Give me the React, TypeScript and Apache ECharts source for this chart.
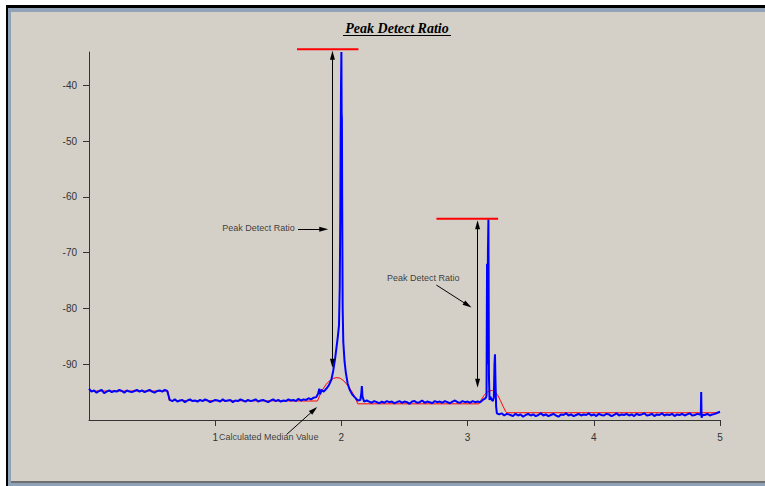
import React, { useEffect, useRef } from "react";
import * as echarts from "echarts";

// ---- axis ticks ----
const xTicks = [1, 2, 3, 4, 5];
const yTicks = [-90, -80, -70, -60, -50, -40];

// ---- blue signal (baseline segments sampled every 0.02) ----
const STEP = 0.02;
const blueSeg1Start = 0.0;
const blueSeg1 = [
  -94.4, -94.9, -94.7, -95.1, -94.8, -94.6, -95.2, -94.9, -94.7, -95.0,
  -94.8, -94.9, -94.6, -94.8, -95.1, -94.7, -94.9, -95.0, -94.8, -94.6,
  -94.9, -94.7, -95.0, -94.8, -94.6, -94.9, -95.1, -94.8, -94.7, -94.9,
  -94.6, -94.8,
];
const blueSeg2Start = 0.64;
const blueSeg2 = [
  -96.4, -96.6, -96.3, -96.7, -96.5, -96.4, -96.8, -96.5, -96.3, -96.6,
  -96.5, -96.7, -96.4, -96.6, -96.3, -96.5, -96.8, -96.6, -96.4, -96.5,
  -96.7, -96.3, -96.6, -96.5, -96.4, -96.8, -96.5, -96.6, -96.3, -96.5,
  -96.7, -96.4, -96.6, -96.5, -96.3, -96.7, -96.5, -96.4, -96.6, -96.8,
  -96.5, -96.3, -96.6, -96.4, -96.7, -96.5, -96.6, -96.3, -96.5, -96.4,
  -96.6, -96.2, -96.5, -96.3, -96.4, -96.1, -96.3, -96.0,
];
const bluePeak1: [number, number][] = [
  [1.8, -95.9], [1.815, -95.3], [1.825, -94.4], [1.832, -95.4], [1.84, -94.6],
  [1.86, -94.9], [1.88, -94.4], [1.9, -93.8], [1.92, -92.8], [1.935, -91.2],
  [1.95, -89.0], [1.96, -87.2], [1.972, -85.0], [1.981, -83.0], [1.987, -76.0],
  [1.991, -64.0], [1.994, -50.0], [1.997, -40.0], [2.0, -34.0], [2.002, -45.0],
  [2.004, -46.0], [2.006, -60.0], [2.01, -80.0], [2.015, -86.0], [2.025, -89.5],
  [2.035, -91.5], [2.05, -93.5], [2.066, -94.6], [2.085, -95.4], [2.105, -95.9],
  [2.13, -96.5], [2.15, -96.4], [2.158, -95.2], [2.162, -93.9], [2.167, -95.8],
  [2.18, -96.7], [2.2, -96.5],
];
const blueSeg3Start = 2.22;
const blueSeg3 = [
  -96.7, -96.9, -96.6, -96.8, -97.0, -96.7, -96.9, -96.6, -96.8, -96.7,
  -97.0, -96.8, -96.6, -96.9, -96.7, -96.8, -97.1, -96.7, -96.6, -96.9,
  -96.8, -96.5, -96.9, -96.7, -96.8, -97.0, -96.6, -96.8, -96.7, -96.9,
  -96.6, -96.8, -97.0, -96.7, -96.5, -96.8, -96.9, -96.6, -96.8, -96.7,
  -96.9, -96.6, -96.8, -96.7,
];
const bluePeak2: [number, number][] = [
  [3.1, -96.8], [3.12, -96.4], [3.135, -96.2], [3.145, -96.0], [3.15, -95.6],
  [3.154, -72.0], [3.157, -90.0], [3.161, -70.0], [3.165, -64.0], [3.169, -92.0],
  [3.174, -96.4], [3.18, -95.8], [3.19, -96.3], [3.2, -96.6], [3.208, -95.9],
  [3.213, -90.0], [3.217, -88.2], [3.221, -93.0], [3.226, -97.6], [3.232, -98.8],
  [3.25, -99.0], [3.27, -98.8], [3.29, -99.2], [3.31, -98.9],
];
const blueSeg4Start = 3.34;
const blueSeg4 = [
  -99.1, -99.3, -98.9, -99.2, -99.0, -99.4, -99.1, -98.9, -99.2, -99.0,
  -99.3, -99.1, -98.8, -99.2, -99.0, -99.3, -99.1, -98.9, -99.2, -99.4,
  -99.0, -99.1, -98.8, -99.2, -99.0, -99.3, -99.1, -98.9, -99.2, -99.0,
  -99.1, -98.8, -99.2, -99.0, -99.3, -98.9, -99.1, -99.2, -98.9, -99.0,
  -99.3, -99.1, -98.8, -99.2, -99.0, -99.1, -98.9, -99.2, -99.0, -99.3,
  -98.9, -99.1, -99.0, -98.8, -99.2, -99.1, -98.9, -99.3, -99.0, -99.1,
  -98.8, -99.2, -99.0, -99.1, -98.9, -99.3, -99.0, -99.1, -98.9, -99.2,
  -99.0, -98.8, -99.2, -99.1, -98.9, -99.0,
];
const blueSpike3: [number, number][] = [
  [4.848, -99.0], [4.851, -95.0], [4.854, -99.6], [4.862, -99.1],
];
const blueSeg5Start = 4.88;
const blueSeg5 = [-99.1, -98.9, -99.2, -99.0, -98.9, -98.7, -98.5];

// ---- red calculated median ----
const medianLine: [number, number][] = [
  [0.0, -94.8], [0.625, -94.8], [0.635, -96.5], [1.81, -96.6],
  [1.83, -95.5], [1.85, -94.6], [1.87, -93.9], [1.89, -93.3], [1.91, -92.9],
  [1.94, -92.5], [1.965, -92.4], [1.99, -92.5], [2.02, -93.0], [2.05, -93.8],
  [2.08, -94.8], [2.105, -95.8], [2.13, -97.1], [3.09, -97.1],
  [3.11, -96.3], [3.13, -95.6], [3.15, -95.1], [3.17, -94.8], [3.197, -94.7],
  [3.22, -95.0], [3.24, -95.6], [3.26, -96.5], [3.28, -97.5], [3.3, -98.4],
  [3.31, -98.7], [5.0, -98.7],
];

// ---- peak level markers & annotations ----
const peakTop1: [number, number][] = [[1.648, -33.5], [2.135, -33.5]];
const peakTop2: [number, number][] = [[2.753, -63.9], [3.242, -63.9]];
const ratioArrows: [number, number][][] = [
  [[1.929, -34.6], [1.929, -89.8]],
  [[3.079, -65.0], [3.079, -93.4]],
];
const noteArrows: [number, number][][] = [
  [[1.656, -65.8], [1.86, -65.8]],
  [[2.753, -75.8], [3.001, -79.4]],
  [[1.566, -102.6], [1.782, -98.2]],
];
const noteTexts = ["Peak Detect Ratio", "Peak Detect Ratio", "Calculated Median Value"];
const notePositions: [number, number][] = [[1.056, -65.6], [2.362, -74.5], [1.03, -103.1]];

const TITLE = "Peak Detect Ratio";

function seg(start: number, ys: number[]): [number, number][] {
  return ys.map((y, i) => [+(start + i * STEP).toFixed(3), y]);
}

const blueData: [number, number][] = [
  ...seg(blueSeg1Start, blueSeg1),
  ...seg(blueSeg2Start, blueSeg2),
  ...bluePeak1,
  ...seg(blueSeg3Start, blueSeg3),
  ...bluePeak2,
  ...seg(blueSeg4Start, blueSeg4),
  ...blueSpike3,
  ...seg(blueSeg5Start, blueSeg5),
];

const SANS = '"Liberation Sans", Arial, sans-serif';

export default function App() {
  const ref = useRef<HTMLDivElement>(null);
  useEffect(() => {
    const chart = echarts.init(ref.current!, null, { renderer: "svg" });
    const axisColor = "#333";
    const option: any = {
      animation: false,
      backgroundColor: "transparent",
      grid: { left: 89, right: 45, top: 52, bottom: 66, outerBoundsMode: "none" },
      xAxis: {
        type: "value",
        min: 0,
        max: 5,
        axisLine: { show: true, lineStyle: { color: axisColor, width: 1 } },
        axisTick: { show: true, length: 6, customValues: xTicks, lineStyle: { color: axisColor } },
        axisLabel: { customValues: xTicks, margin: 12, fontSize: 10, color: axisColor, fontFamily: SANS },
        splitLine: { show: false },
      },
      yAxis: {
        type: "value",
        min: -100,
        max: -34,
        axisLine: { show: true, lineStyle: { color: axisColor, width: 1 } },
        axisTick: { show: true, length: 6, customValues: yTicks, lineStyle: { color: axisColor } },
        axisLabel: { customValues: yTicks, margin: 12, fontSize: 10, color: axisColor, fontFamily: SANS },
        splitLine: { show: false },
      },
      graphic: [
        {
          type: "text",
          x: 397,
          y: 28,
          style: {
            text: TITLE,
            align: "center",
            verticalAlign: "middle",
            fontSize: 14,
            fontStyle: "italic",
            fontWeight: "bold",
            fontFamily: '"Liberation Serif", "Times New Roman", serif',
            fill: "#000",
          },
        },
        {
          type: "line",
          shape: { x1: 343, y1: 35.5, x2: 451, y2: 35.5 },
          style: { stroke: "#000", lineWidth: 1 },
        },
      ],
      series: [
        {
          type: "line",
          data: medianLine,
          symbol: "none",
          showSymbol: false,
          silent: true,
          lineStyle: { color: "#ff0000", width: 1 },
          z: 2,
        },
        {
          type: "line",
          data: blueData,
          symbol: "none",
          showSymbol: false,
          clip: false,
          silent: true,
          lineStyle: { color: "#0000ff", width: 2 },
          z: 3,
        },
        {
          type: "line",
          data: peakTop1,
          symbol: "none",
          clip: false,
          silent: true,
          lineStyle: { color: "#ff0000", width: 2 },
          z: 4,
        },
        {
          type: "line",
          data: peakTop2,
          symbol: "none",
          clip: false,
          silent: true,
          lineStyle: { color: "#ff0000", width: 2 },
          z: 4,
        },
        {
          type: "lines",
          coordinateSystem: "cartesian2d",
          clip: false,
          silent: true,
          symbol: ["triangle", "triangle"],
          symbolSize: [[5, 9], [5, 9]],
          lineStyle: { color: "#000", width: 1, opacity: 1, curveness: 0 },
          itemStyle: { color: "#000" },
          data: ratioArrows.map((c) => ({ coords: c })),
          z: 5,
        },
        {
          type: "lines",
          coordinateSystem: "cartesian2d",
          clip: false,
          silent: true,
          symbol: ["none", "triangle"],
          symbolSize: [[5, 9], [5, 9]],
          lineStyle: { color: "#000", width: 1, opacity: 1, curveness: 0 },
          itemStyle: { color: "#000" },
          data: noteArrows.map((c) => ({ coords: c })),
          z: 5,
        },
        {
          type: "scatter",
          clip: false,
          silent: true,
          symbolSize: 0,
          itemStyle: { color: "rgba(0,0,0,0)" },
          label: {
            show: true,
            position: "right",
            distance: 0,
            formatter: (p: any) => p.name,
            color: "#111",
            fontSize: 9,
            fontFamily: SANS,
          },
          data: notePositions.map((v, i) => ({ name: noteTexts[i], value: v })),
          z: 6,
        },
      ],
    };
    chart.setOption(option);
    return () => chart.dispose();
  }, []);

  return (
    <div style={{ position: "fixed", left: 0, top: 0, width: 765, height: 486, background: "#fff", overflow: "hidden" }}>
      <div style={{ position: "absolute", left: 6, top: 5, width: 759, height: 481, background: "#000" }} />
      <div style={{ position: "absolute", left: 8, top: 8, width: 757, height: 478, background: "#8fa2b8" }} />
      <div
        style={{
          position: "absolute",
          left: 11,
          top: 12,
          width: 754,
          height: 469,
          background: "#d4d0c8",
          borderBottom: "2px solid #6f6f6f",
        }}
      />
      <div ref={ref} style={{ position: "absolute", left: 0, top: 0, width: 765, height: 486 }} />
    </div>
  );
}
